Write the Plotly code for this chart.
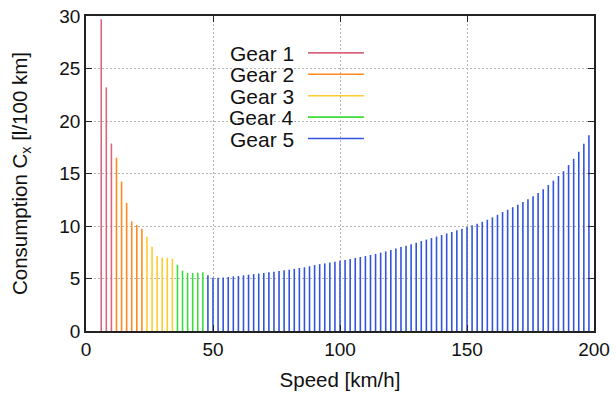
import plotly.graph_objects as go

# Fuel consumption per speed step, split by the gear in use
gear_names = ["Gear 1", "Gear 2", "Gear 3", "Gear 4", "Gear 5"]
gear_colors = ["#d9667f", "#ff8a1e", "#ffcc33", "#3ddc3d", "#3355dd"]

speed_g1 = [6, 8, 10]
cons_g1 = [29.7, 23.2, 17.85]

speed_g2 = [12, 14, 16, 18, 20, 22]
cons_g2 = [16.5, 14.23, 12.2, 10.44, 10.1, 9.74]

speed_g3 = [24, 26, 28, 30, 32, 34]
cons_g3 = [8.98, 8.02, 7.13, 7.0, 6.96, 6.88]

speed_g4 = [36, 38, 40, 42, 44, 46]
cons_g4 = [6.31, 5.74, 5.53, 5.53, 5.56, 5.6]

speed_g5 = [48, 50, 52, 54, 56, 58, 60, 62, 64, 66, 68, 70, 72, 74, 76, 78,
            80, 82, 84, 86, 88, 90, 92, 94, 96, 98, 100, 102, 104, 106, 108,
            110, 112, 114, 116, 118, 120, 122, 124, 126, 128, 130, 132, 134,
            136, 138, 140, 142, 144, 146, 148, 150, 152, 154, 156, 158, 160,
            162, 164, 166, 168, 170, 172, 174, 176, 178, 180, 182, 184, 186,
            188, 190, 192, 194, 196, 198]
cons_g5 = [5.31, 5.07, 5.07, 5.1, 5.14, 5.2, 5.24, 5.3, 5.36, 5.42, 5.47, 5.52,
           5.59, 5.65, 5.71, 5.78, 5.84, 5.92, 6.0, 6.06, 6.17, 6.28, 6.37,
           6.44, 6.53, 6.6, 6.68, 6.76, 6.86, 6.95, 7.05, 7.14, 7.24, 7.34,
           7.46, 7.58, 7.71, 7.86, 8.0, 8.12, 8.27, 8.4, 8.56, 8.7, 8.85, 8.99,
           9.14, 9.29, 9.43, 9.59, 9.74, 9.91, 10.06, 10.22, 10.4, 10.6, 10.82,
           11.07, 11.33, 11.55, 11.79, 12.03, 12.28, 12.54, 12.83, 13.15, 13.5,
           13.9, 14.32, 14.77, 15.22, 15.8, 16.4, 17.07, 17.83, 18.65]

x_ticks = [0, 50, 100, 150, 200]
y_ticks = [0, 5, 10, 15, 20, 25, 30]

speeds = [speed_g1, speed_g2, speed_g3, speed_g4, speed_g5]
consumption = [cons_g1, cons_g2, cons_g3, cons_g4, cons_g5]

FONT = "Liberation Sans, Arial, sans-serif"

fig = go.Figure()

# Impulses: one vertical segment from zero up to each value
for name, color, xs, ys in zip(gear_names, gear_colors, speeds, consumption):
    px, py = [], []
    for s, v in zip(xs, ys):
        px += [s, s, None]
        py += [0, v, None]
    fig.add_trace(go.Scatter(
        x=px, y=py, mode="lines", name=name,
        line=dict(color=color, width=1.6),
        showlegend=False, hoverinfo="skip",
    ))

# Opaque key box with labels on the left and line samples on the right
shapes = [dict(type="rect", xref="paper", yref="paper",
               x0=0.252, x1=0.573, y0=0.587, y1=0.932,
               fillcolor="white", line=dict(width=0), layer="between")]
annotations = []
row_top, row_step = 0.883, 0.068
for i, (name, color) in enumerate(zip(gear_names, gear_colors)):
    yy = row_top - i * row_step
    annotations.append(dict(
        x=0.414, y=yy, xref="paper", yref="paper", text=name,
        showarrow=False, xanchor="right", yanchor="middle",
        height=20, valign="middle",
        font=dict(family=FONT, size=21, color="#111"),
    ))
    shapes.append(dict(type="line", xref="paper", yref="paper",
                       x0=0.437, x1=0.547, y0=yy, y1=yy,
                       line=dict(color=color, width=1.6), layer="above"))

axis_common = dict(
    showline=True, linecolor="#222", linewidth=1.5, mirror="ticks",
    ticks="inside", ticklen=6, tickwidth=1, tickcolor="#222",
    showgrid=True, gridcolor="#b4b4b4", gridwidth=1, griddash="2px,2px",
    zeroline=False, automargin=False,
    tickfont=dict(family=FONT, size=19, color="#111"),
)

fig.update_layout(
    width=616, height=396,
    margin=dict(l=86, r=22, t=16, b=65),
    paper_bgcolor="white", plot_bgcolor="white",
    shapes=shapes, annotations=annotations,
    showlegend=False,
    xaxis=dict(range=[0, 200], tickvals=x_ticks,
               title=dict(text="Speed [km/h]", standoff=14,
                          font=dict(family=FONT, size=20.5, color="#111")),
               **axis_common),
    yaxis=dict(range=[0, 30], tickvals=y_ticks,
               title=dict(text="Consumption C<sub>x</sub> [l/100 km]", standoff=26,
                          font=dict(family=FONT, size=20.5, color="#111")),
               **axis_common),
)

fig.write_html("out.html", config={"displayModeBar": False})
